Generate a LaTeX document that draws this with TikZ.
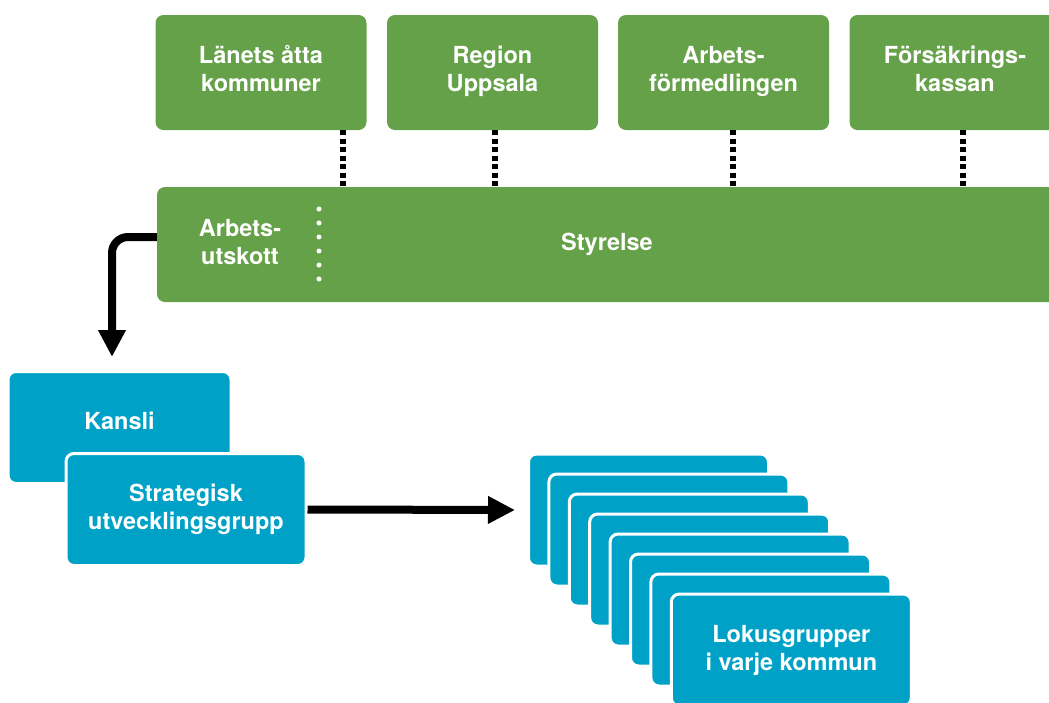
\documentclass[tikz,border=0pt]{standalone}
\usepackage{fontspec}
\setmainfont{TeX Gyre Heros}
\usetikzlibrary{arrows.meta}
\definecolor{orggreen}{RGB}{101,161,72}
\definecolor{orgblue}{RGB}{0,161,198}

\begin{document}
\begin{tikzpicture}[x=1pt,y=-1pt,
	box/.style={rounded corners=8pt, text=white, font=\fontsize{23.5}{28}\selectfont\bfseries, align=center, inner sep=0pt},
	partbox/.style={box, fill=orggreen, minimum width=211pt, minimum height=115pt},
	bluebox/.style={box, fill=orgblue, draw=white, line width=3pt, minimum width=240pt, minimum height=112pt},
	link/.style={line width=6pt, dash pattern=on 5pt off 3.5pt},
	flow/.style={line width=8pt, rounded corners=16pt, -{Triangle[width=26pt,length=27pt]}}]
	\fill[white] (0,0) rectangle (1049,702);
	\useasboundingbox (0,0) rectangle (1049,702);
	\clip (0,0) rectangle (1049,702);
	% parterna
	\node[partbox] (kommuner) at (261,72.5) {Länets åtta\\kommuner\\[-20pt]};
	\node[partbox] (region) at (492.5,72.5) {Region\\Uppsala\\[-20pt]};
	\node[partbox] (af) at (723.5,72.5) {Arbets-\\förmedlingen\\[-20pt]};
	\node[partbox] (fk) at (955,72.5) {Försäkrings-\\kassan\\[-20pt]};
	\node[box, fill=orggreen, minimum width=900pt, minimum height=115pt] (styrelse) at (607,244.5) {Styrelse};
	\node[box] (utskott) at (240,242) {Arbets-\\utskott};
	\draw[white, line width=5pt, line cap=round, dash pattern=on 0pt off 14pt] (319,209) -- (319,281);
	\coordinate (c1) at (343,0);
	\coordinate (c2) at (495,0);
	\coordinate (c3) at (733,0);
	\coordinate (c4) at (963,0);
	\draw[link] (c1 |- kommuner.south) -- (c1 |- styrelse.north);
	\draw[link] (c2 |- region.south) -- (c2 |- styrelse.north);
	\draw[link] (c3 |- af.south) -- (c3 |- styrelse.north);
	\draw[link] (c4 |- fk.south) -- (c4 |- styrelse.north);
	% kansli och grupper
	\node[bluebox, minimum width=223pt] (kansli) at (119.5,427.5) {Kansli\\[-14pt]\phantom{x}};
	\node[bluebox] (strategisk) at (186,509.5) {Strategisk\\utvecklingsgrupp};
	\coordinate (turn) at (112,237);
	\draw[flow, shorten >=13pt] (turn -| styrelse.west) -- (turn) -- (turn |- kansli.north);
	\foreach \i in {0,...,6}
		\node[bluebox] (lokus\i) at (648.5+20.4*\i,510+20*\i) {};
	\node[bluebox] (lokus7) at (791.3,650) {Lokusgrupper\\i varje kommun};
	\draw[flow, shorten >=12pt] (strategisk.east) -- (lokus0.west);
\end{tikzpicture}
\end{document}
